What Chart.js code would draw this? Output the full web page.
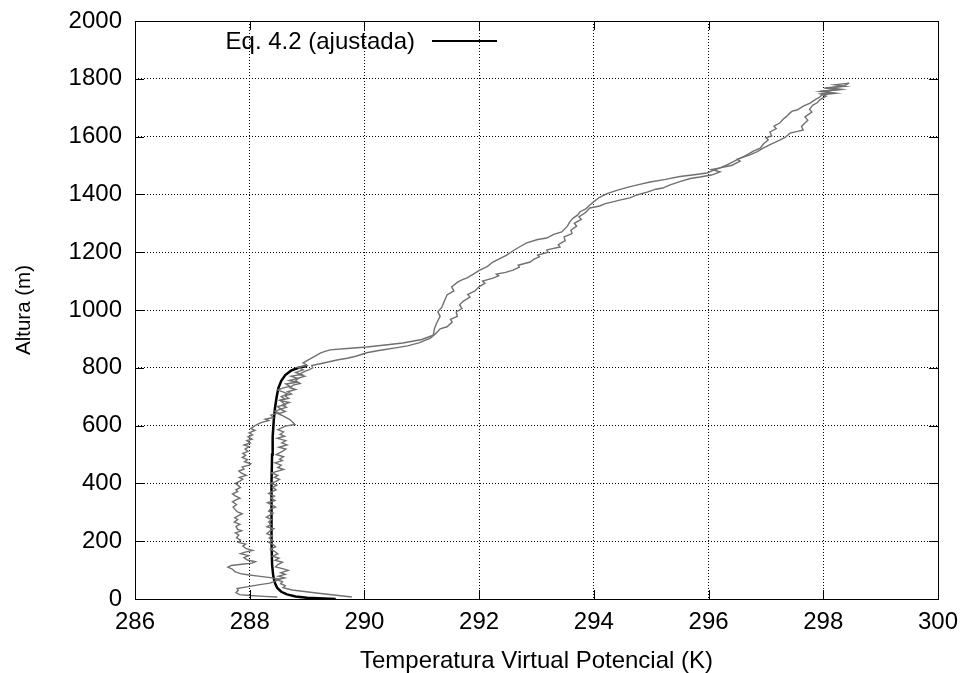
<!DOCTYPE html>
<html>
<head>
<meta charset="utf-8">
<script src="https://cdn.jsdelivr.net/npm/chart.js@4/dist/chart.umd.min.js"></script>
<style>
  html, body { margin: 0; padding: 0; background: #fff; }
  canvas { display: block; }
</style>
</head>
<body>
<canvas id="perfil" width="965" height="673"></canvas>
<script>
// ticks
const xTicks = [286, 288, 290, 292, 294, 296, 298, 300];
const yTicks = [0, 200, 400, 600, 800, 1000, 1200, 1400, 1600, 1800, 2000];

// sondagem: subida (theta_v em K, altura em m)
const subidaT = [
  288.48, 288.25, 288.00, 287.82, 287.76, 287.80, 287.78, 287.95, 288.15, 288.35,
  288.46, 288.52, 288.36, 288.15, 287.96, 287.84, 287.74, 287.70, 287.62, 287.68,
  287.86, 288.04, 288.10, 287.96, 287.90, 287.98, 287.84, 287.92, 288.05, 287.94,
  287.88, 287.93, 287.80, 287.84, 287.77, 287.81, 287.75, 287.86, 287.79, 287.76,
  287.83, 287.73, 287.79, 287.74, 287.82, 287.87, 287.78, 287.74, 287.71, 287.77,
  287.70, 287.76, 287.83, 287.74, 287.70, 287.79, 287.76, 287.84, 287.79, 287.75,
  287.83, 287.88, 287.82, 287.94, 287.85, 287.81, 287.90, 287.87, 287.99, 288.02,
  287.91, 287.96, 287.87, 287.93, 287.88, 287.97, 287.92, 287.99, 287.90, 288.01,
  287.95, 288.04, 287.97, 288.05, 287.99, 288.09, 288.02, 288.08, 288.14, 288.21,
  288.33, 288.27, 288.41, 288.37, 288.50, 288.44, 288.55, 288.48, 288.62, 288.57,
  288.53, 288.68, 288.61, 288.73, 288.66, 288.80, 288.70, 288.76, 288.88, 288.80,
  288.85, 288.96, 288.86, 288.94, 289.04, 289.10, 289.08, 289.25,
  289.52, 289.70, 289.85, 290.04, 290.25, 290.57, 290.75, 290.95, 291.15, 291.25,
  291.32, 291.44, 291.53, 291.50, 291.62, 291.60, 291.70, 291.66, 291.72, 291.84,
  291.80, 291.92, 292.01, 292.10, 292.06, 292.24, 292.34, 292.30, 292.46, 292.59,
  292.70, 292.68, 292.89, 292.95, 293.05, 293.02, 293.20, 293.18, 293.41, 293.38,
  293.50, 293.48, 293.62, 293.60, 293.70, 293.66, 293.78, 293.74, 293.86, 293.93,
  294.10, 294.20, 294.33, 294.45, 294.63, 294.75, 294.93, 295.08, 295.20, 295.33,
  295.50, 295.68, 295.85, 296.05, 296.20, 296.05, 296.15, 296.40, 296.55, 296.50,
  296.70, 296.85, 296.95, 297.10, 297.24, 297.34, 297.42, 297.55, 297.65, 297.62,
  297.73, 297.68, 297.80, 297.76, 297.82, 297.90, 297.94, 298.05, 297.95, 298.15,
  298.00, 298.30, 298.10, 298.35, 298.45];
const subidaH = [
  7, 9, 12, 15, 22, 30, 36, 42, 49, 55,
  63, 69, 74, 79, 84, 88, 95, 103, 110, 116,
  120, 124, 129, 135, 143, 150, 157, 162, 168, 174,
  183, 190, 196, 204, 212, 222, 229, 236, 241, 251,
  258, 266, 275, 281, 290, 295, 302, 311, 318, 327,
  336, 343, 349, 358, 364, 372, 378, 386, 394, 400,
  408, 415, 421, 428, 436, 443, 449, 457, 463, 468,
  475, 482, 490, 497, 504, 511, 519, 527, 533, 540,
  548, 553, 561, 568, 575, 583, 590, 598, 605, 611,
  617, 622, 628, 636, 644, 650, 657, 666, 672, 681,
  688, 694, 703, 709, 717, 725, 731, 740, 746, 755,
  764, 771, 777, 786, 794, 800, 808, 815,
  827, 833, 840, 852, 860, 870, 876, 886, 903, 920,
  935, 942, 958, 968, 978, 993, 1005, 1018, 1030, 1045,
  1054, 1065, 1082, 1092, 1100, 1110, 1118, 1124, 1130, 1138,
  1148, 1155, 1166, 1175, 1184, 1190, 1200, 1208, 1218, 1226,
  1240, 1253, 1264, 1276, 1290, 1300, 1314, 1322, 1338, 1353,
  1360, 1368, 1374, 1380, 1388, 1398, 1408, 1418, 1422, 1433,
  1444, 1455, 1460, 1467, 1478, 1486, 1490, 1500, 1515, 1522,
  1535, 1548, 1560, 1575, 1588, 1598, 1612, 1618, 1623, 1635,
  1657, 1668, 1685, 1695, 1709, 1718, 1727, 1740, 1748, 1752,
  1758, 1764, 1768, 1775, 1785];

// sondagem: descida
const descidaT = [
  298.45, 298.20, 298.38, 298.02, 298.28, 297.96, 298.22, 297.98, 297.94, 297.86,
  297.77, 297.66, 297.54, 297.46, 297.42, 297.36, 297.30, 297.24, 297.14, 297.18,
  297.07, 297.10, 297.00, 297.04, 296.96, 296.90, 296.78, 296.70, 296.60, 296.50,
  296.40, 296.30, 296.18, 296.10, 295.97, 295.75, 295.50, 295.25, 294.98, 294.78,
  294.60, 294.40, 294.23, 294.10, 294.00, 293.94, 293.86, 293.76, 293.72, 293.64,
  293.58, 293.54, 293.44, 293.30, 293.18, 293.02, 292.83, 292.70, 292.60, 292.48,
  292.36, 292.24, 292.14, 292.01, 291.90, 291.79, 291.70, 291.63, 291.52, 291.56,
  291.44, 291.40, 291.35, 291.28, 291.32, 291.26, 291.22, 291.20, 291.00, 290.67,
  290.40, 290.04, 289.70, 289.40, 289.30, 289.23, 289.10, 288.93,
  289.00, 288.84, 288.93, 288.80, 288.90, 288.72, 288.84, 288.69, 288.82, 288.63,
  288.70, 288.56, 288.49, 288.60, 288.66, 288.55, 288.61, 288.53, 288.69, 288.57,
  288.64, 288.53, 288.62, 288.50, 288.58, 288.70, 288.79, 288.62, 288.49, 288.59,
  288.53, 288.61, 288.48, 288.63, 288.56, 288.65, 288.51, 288.63, 288.57, 288.46,
  288.59, 288.52, 288.57, 288.44, 288.55, 288.49, 288.59, 288.46, 288.38, 288.49,
  288.43, 288.52, 288.45, 288.36, 288.47, 288.40, 288.46, 288.38, 288.33, 288.43,
  288.37, 288.44, 288.31, 288.39, 288.45, 288.36, 288.33, 288.41, 288.35, 288.29,
  288.38, 288.33, 288.37, 288.30, 288.42, 288.35, 288.30, 288.39, 288.34, 288.40,
  288.33, 288.41, 288.45, 288.36, 288.43, 288.49, 288.40, 288.51, 288.44, 288.57,
  288.49, 288.45, 288.59, 288.67, 288.54, 288.62, 288.50, 288.61, 288.47, 288.57,
  288.54, 288.62, 288.58, 288.74, 289.20, 289.78];
const descidaH = [
  1785, 1779, 1774, 1768, 1762, 1756, 1750, 1745, 1737, 1728,
  1716, 1706, 1692, 1688, 1682, 1670, 1660, 1647, 1636, 1628,
  1616, 1602, 1596, 1588, 1575, 1560, 1550, 1540, 1530, 1520,
  1510, 1500, 1490, 1485, 1474, 1468, 1462, 1452, 1443, 1434,
  1425, 1414, 1403, 1390, 1375, 1365, 1350, 1340, 1329, 1318,
  1305, 1290, 1270, 1262, 1249, 1244, 1232, 1218, 1206, 1190,
  1178, 1166, 1150, 1138, 1124, 1111, 1104, 1097, 1080, 1066,
  1052, 1034, 1010, 994, 978, 955, 935, 913, 898, 886,
  880, 872, 867, 862, 856, 851, 836, 817,
  808, 801, 793, 784, 777, 771, 763, 756, 750, 744,
  736, 729, 723, 715, 710, 700, 692, 687, 680, 671,
  663, 657, 649, 641, 634, 621, 604, 598, 586, 578,
  570, 563, 556, 548, 540, 533, 525, 519, 511, 500,
  492, 484, 479, 471, 463, 455, 448, 441, 436, 428,
  421, 414, 406, 400, 394, 386, 378, 371, 365, 356,
  349, 341, 333, 325, 318, 311, 304, 297, 290, 283,
  275, 266, 258, 250, 243, 235, 226, 219, 211, 203,
  196, 188, 181, 173, 165, 156, 148, 141, 134, 127,
  119, 111, 104, 99, 91, 85, 79, 73, 66, 60,
  53, 46, 39, 31, 20, 7];

// Eq. 4.2 (ajustada)
const ajusteT = [289.50, 289.00, 288.80, 288.65, 288.55, 288.48, 288.44, 288.41, 288.39, 288.38,
  288.38, 288.38, 288.39, 288.40, 288.42, 288.44, 288.47, 288.50, 288.55, 288.62,
  288.72, 288.85, 289.00];
const ajusteH = [0, 4, 9, 16, 25, 38, 55, 80, 120, 200,
  300, 400, 500, 560, 620, 660, 700, 730, 755, 775,
  790, 800, 806];

const pts = (xs, ys) => xs.map((v, i) => ({ x: v, y: ys[i] }));

const FONT = '"Liberation Sans", Arial, Helvetica, sans-serif';
Chart.defaults.font.family = FONT;
Chart.defaults.font.size = 24;
Chart.defaults.color = '#000';

const framePlugin = {
  id: 'frame',
  afterDatasetsDraw(chart) {
    const { ctx, chartArea: a, scales: { x, y } } = chart;
    ctx.save();
    ctx.strokeStyle = '#000';
    ctx.lineWidth = 1;
    ctx.beginPath();
    xTicks.forEach(v => {
      const px = Math.round(x.getPixelForValue(v)) + 0.5;
      ctx.moveTo(px, a.bottom); ctx.lineTo(px, a.bottom - 9);
      ctx.moveTo(px, a.top); ctx.lineTo(px, a.top + 9);
    });
    yTicks.forEach(v => {
      const py = Math.round(y.getPixelForValue(v)) + 0.5;
      ctx.moveTo(a.left, py); ctx.lineTo(a.left + 9, py);
      ctx.moveTo(a.right, py); ctx.lineTo(a.right - 9, py);
    });
    ctx.stroke();
    ctx.strokeRect(Math.round(a.left) + 0.5, Math.round(a.top) + 0.5,
      Math.round(a.right - a.left), Math.round(a.bottom - a.top));

    // legenda: texto e depois a amostra da linha
    const fit = chart.data.datasets[2];
    ctx.font = '24px ' + FONT;
    ctx.fillStyle = '#000';
    ctx.textAlign = 'right';
    ctx.textBaseline = 'middle';
    ctx.fillText(fit.label, a.left + 280, a.top + 21);
    ctx.lineWidth = 2;
    ctx.beginPath();
    ctx.moveTo(a.left + 297, a.top + 20);
    ctx.lineTo(a.left + 362, a.top + 20);
    ctx.stroke();
    ctx.restore();
  }
};

new Chart(document.getElementById('perfil'), {
  type: 'scatter',
  data: {
    datasets: [
      {
        label: 'subida',
        data: pts(subidaT, subidaH),
        showLine: true,
        borderColor: '#707070',
        borderWidth: 1.4,
        pointRadius: 0
      },
      {
        label: 'descida',
        data: pts(descidaT, descidaH),
        showLine: true,
        borderColor: '#707070',
        borderWidth: 1.4,
        pointRadius: 0
      },
      {
        label: 'Eq. 4.2 (ajustada)',
        data: pts(ajusteT, ajusteH),
        showLine: true,
        borderColor: '#000',
        borderWidth: 2.5,
        pointRadius: 0
      }
    ]
  },
  options: {
    responsive: false,
    animation: false,
    devicePixelRatio: 1,
    layout: { padding: { top: 21, right: 27, bottom: 0, left: 0 } },
    plugins: {
      legend: { display: false },
      tooltip: { enabled: false }
    },
    scales: {
      x: {
        type: 'linear',
        min: 286,
        max: 300,
        afterBuildTicks: s => { s.ticks = xTicks.map(v => ({ value: v })); },
        afterFit: s => { s.height = 74; s.paddingLeft = 0; s.paddingRight = 0; },
        ticks: { padding: 9, maxRotation: 0, callback: v => String(v) },
        grid: { color: '#000', lineWidth: 1, drawTicks: false },
        border: { display: false, dash: [1, 2] },
        title: {
          display: true,
          text: 'Temperatura Virtual Potencial (K)',
          font: { size: 24, lineHeight: 1 },
          padding: { top: 0, bottom: 0 }
        }
      },
      y: {
        type: 'linear',
        min: 0,
        max: 2000,
        afterBuildTicks: s => { s.ticks = yTicks.map(v => ({ value: v })); },
        afterFit: s => { s.width = 135; s.paddingTop = 0; s.paddingBottom = 0; },
        ticks: { padding: 13, callback: v => String(v) },
        grid: { color: '#000', lineWidth: 1, drawTicks: false },
        border: { display: false, dash: [1, 2] },
        title: {
          display: true,
          text: 'Altura (m)',
          font: { size: 20.5 },
          padding: { top: 12, bottom: 0 }
        }
      }
    }
  },
  plugins: [framePlugin]
});
</script>
</body>
</html>
